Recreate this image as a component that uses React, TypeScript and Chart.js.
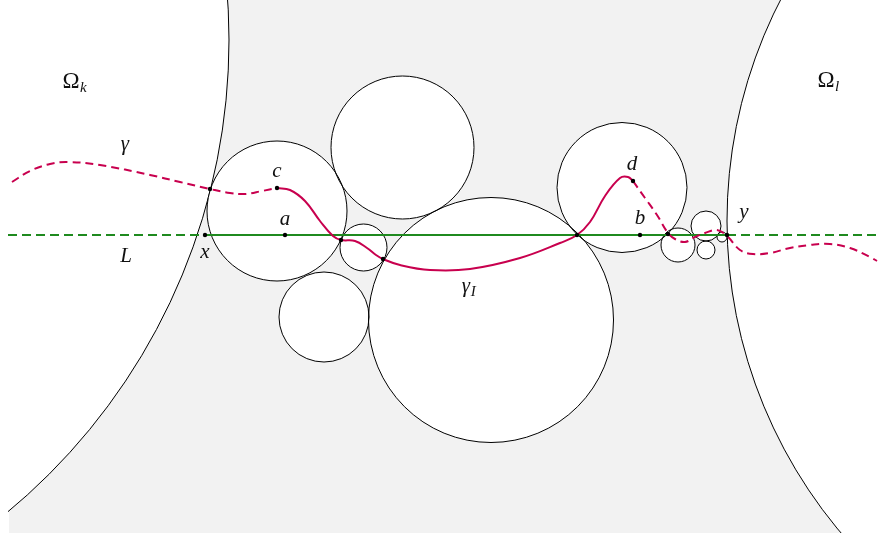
import React, { useEffect, useRef } from "react";
import { Chart, registerables } from "chart.js";

Chart.register(...registerables);

// Shaded strip between the two domains
const regionX = [9, 878];
const regionY = [0, 533];

// Big domains Omega_k, Omega_l (centre, radius)
const domainX = [-385, 1211];
const domainY = [40, 221];
const domainR = [614, 484];

// Chain of discs
const circleX = [277, 402.5, 363.5, 324, 491, 622, 678, 706, 706, 722];
const circleY = [211, 147.5, 247.5, 317, 320, 187.5, 245, 226, 250, 237];
const circleR = [70, 71.5, 23.5, 45, 122.5, 65, 17, 15, 9, 5];

// Line L
const lineLeftX = [8, 205];
const lineMidX = [205, 727];
const lineRightX = [727, 878];
const lineLevel = 235;

// Curve gamma (dashed left part)
const gammaLeftX = [12, 30, 50, 68, 100, 150, 180, 210, 230, 245, 262, 277];
const gammaLeftY = [182, 171, 164, 162, 165, 175, 182, 189, 193, 194, 191, 188];
// solid part gamma_I from c to d
const gammaMidX = [277, 290, 305, 320, 333, 341, 355, 367, 376, 383, 400, 430, 470, 520, 560, 577, 590, 605, 620, 628, 633];
const gammaMidY = [188, 190, 201, 221, 236, 240, 241, 248, 255, 259, 265, 270, 269, 258, 243, 235, 222, 196, 178, 177, 181];
// dashed right part
const gammaRightX = [633, 645, 657, 668, 675, 685, 695, 705, 717, 727, 740, 753, 770, 790, 810, 830, 850, 870, 877];
const gammaRightY = [181, 198, 215, 233, 239, 242, 237, 233, 230, 236, 250, 254, 253, 248, 245, 244, 248, 257, 261];

// Marked points
const dotX = [205, 285, 277, 633, 640, 210, 341, 383, 577, 668, 727];
const dotY = [235, 235, 188, 181, 235, 189, 240, 259, 235, 234, 235];

// Labels
const labelText = ["Ω", "Ω", "γ", "L", "x", "a", "c", "d", "b", "y", "γ"];
const labelSub = ["k", "l", "", "", "", "", "", "", "", "", "I"];
const labelItalic = [false, false, true, true, true, true, true, true, true, true, true];
const labelX = [71, 826, 125, 126, 205, 285, 277, 632, 640, 744, 466];
const labelY = [88, 87, 150, 262, 258, 225, 177, 170, 224, 218, 292];

const RED = "#c8004e";
const GREEN = "#1f8a1f";

const pts = (xs: number[], ys: number[]) => xs.map((x, i) => ({ x, y: ys[i] }));
const discs = (xs: number[], ys: number[], rs: number[]) => xs.map((x, i) => ({ x, y: ys[i], r: rs[i] }));

const shadePlugin = {
  id: "shade",
  beforeDatasetsDraw(chart: any) {
    const { ctx, scales } = chart;
    const x0 = scales.x.getPixelForValue(regionX[0]);
    const x1 = scales.x.getPixelForValue(regionX[1]);
    const y0 = scales.y.getPixelForValue(regionY[0]);
    const y1 = scales.y.getPixelForValue(regionY[1]);
    ctx.save();
    ctx.fillStyle = "#f2f2f2";
    ctx.fillRect(Math.min(x0, x1), Math.min(y0, y1), Math.abs(x1 - x0), Math.abs(y1 - y0));
    ctx.restore();
  },
};

const labelPlugin = {
  id: "labels",
  afterDatasetsDraw(chart: any) {
    const { ctx, scales } = chart;
    ctx.save();
    ctx.fillStyle = "#111";
    ctx.textBaseline = "alphabetic";
    labelText.forEach((t, i) => {
      const px = scales.x.getPixelForValue(labelX[i]);
      const py = scales.y.getPixelForValue(labelY[i]);
      ctx.font = `${labelItalic[i] ? "italic " : ""}${labelItalic[i] ? 21 : 23}px "Liberation Serif", serif`;
      ctx.textAlign = "center";
      ctx.fillText(t, px, py);
      if (labelSub[i]) {
        const w = ctx.measureText(t).width;
        ctx.font = `italic 15px "Liberation Serif", serif`;
        ctx.textAlign = "left";
        ctx.fillText(labelSub[i], px + w / 2 + 0.5, py + 4);
      }
    });
    ctx.restore();
  },
};

export default function App() {
  const ref = useRef<HTMLCanvasElement | null>(null);

  useEffect(() => {
    if (!ref.current) return;
    const chart = new Chart(ref.current, {
      type: "scatter",
      data: {
        datasets: [
          {
            type: "scatter",
            data: pts(dotX, dotY),
            pointRadius: 2.2,
            pointBackgroundColor: "#000",
            pointBorderWidth: 0,
            order: 1,
          } as any,
          {
            type: "line",
            data: pts(gammaLeftX, gammaLeftY),
            borderColor: RED,
            borderWidth: 2,
            borderDash: [8, 5],
            pointRadius: 0,
            tension: 0.4,
            fill: false,
            order: 3,
          },
          {
            type: "line",
            data: pts(gammaMidX, gammaMidY),
            borderColor: RED,
            borderWidth: 2,
            pointRadius: 0,
            tension: 0.4,
            fill: false,
            order: 3,
          },
          {
            type: "line",
            data: pts(gammaRightX, gammaRightY),
            borderColor: RED,
            borderWidth: 2,
            borderDash: [8, 5],
            pointRadius: 0,
            tension: 0.4,
            fill: false,
            order: 3,
          },
          {
            type: "line",
            data: lineLeftX.map((x) => ({ x, y: lineLevel })),
            borderColor: GREEN,
            borderWidth: 2,
            borderDash: [9, 5],
            pointRadius: 0,
            order: 4,
          },
          {
            type: "line",
            data: lineMidX.map((x) => ({ x, y: lineLevel })),
            borderColor: GREEN,
            borderWidth: 2,
            pointRadius: 0,
            order: 4,
          },
          {
            type: "line",
            data: lineRightX.map((x) => ({ x, y: lineLevel })),
            borderColor: GREEN,
            borderWidth: 2,
            borderDash: [9, 5],
            pointRadius: 0,
            order: 4,
          },
          {
            type: "bubble",
            data: discs(circleX, circleY, circleR),
            backgroundColor: "rgba(0,0,0,0)",
            borderColor: "#000",
            borderWidth: 1,
            clip: false,
            order: 6,
          } as any,
          {
            type: "bubble",
            data: discs(circleX, circleY, circleR),
            backgroundColor: "#fff",
            borderWidth: 0,
            clip: false,
            order: 7,
          } as any,
          {
            type: "bubble",
            data: discs(domainX, domainY, domainR),
            backgroundColor: "#fff",
            borderColor: "#000",
            borderWidth: 1,
            clip: { left: -8, top: 0, right: 0, bottom: -5 },
            order: 8,
          } as any,
        ],
      },
      options: {
        animation: false,
        responsive: true,
        maintainAspectRatio: false,
        events: [],
        layout: { padding: 0, autoPadding: false },
        plugins: { legend: { display: false }, tooltip: { enabled: false } },
        scales: {
          x: { type: "linear", min: 0, max: 878, display: false },
          y: { type: "linear", min: 0, max: 538, reverse: true, display: false },
        },
      },
      plugins: [shadePlugin, labelPlugin],
    });
    return () => chart.destroy();
  }, []);

  return (
    <div style={{ position: "absolute", left: 0, top: 0, width: 878, height: 538, background: "#fff" }}>
      <canvas ref={ref} />
    </div>
  );
}
